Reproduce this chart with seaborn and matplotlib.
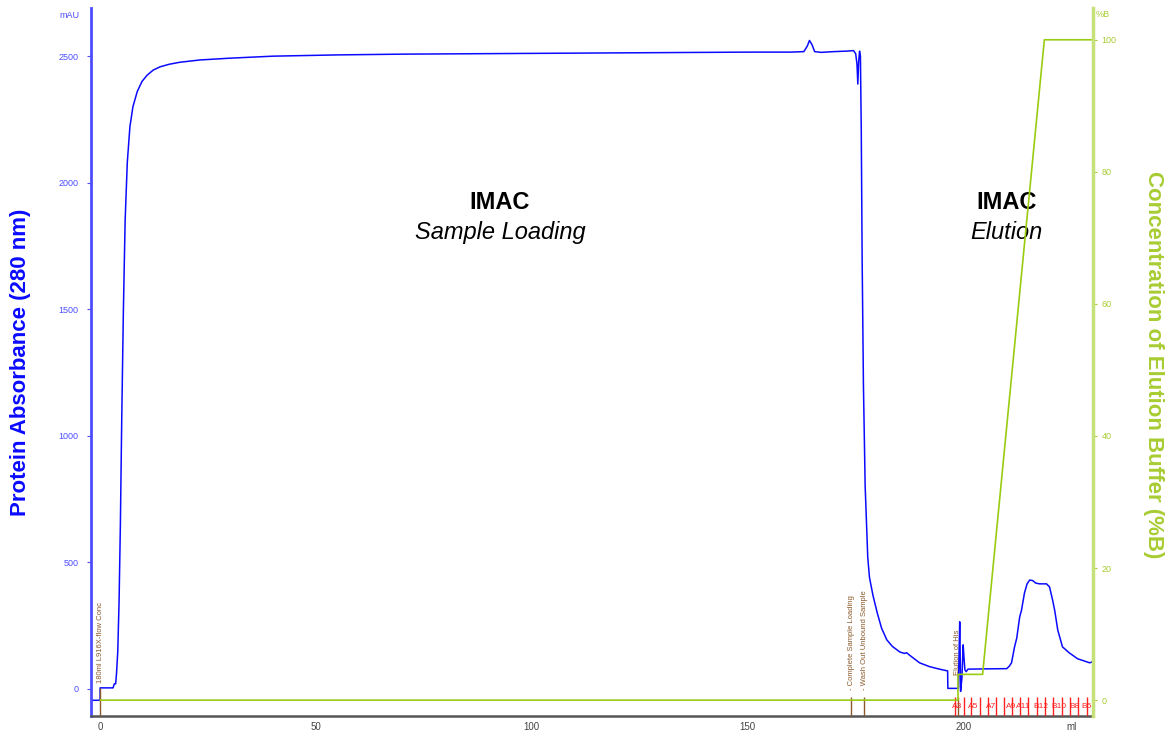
import seaborn as sns
import matplotlib.pyplot as plt
import matplotlib.transforms as mtransforms
import pandas as pd

# UV 280 nm trace (ml, mAU)
uv_ml = [-2.0, 0.0, 0.0, 3.0, 3.3, 3.6, 3.8, 4.1, 4.4, 4.7, 5.0, 5.4, 5.8, 6.3, 6.9,
         7.6, 8.6, 9.7, 10.9, 12.3, 13.9, 16.0, 18.5, 23.1, 30, 40, 55, 70, 90, 110,
         130, 150, 160, 163.0, 163.8, 164.3, 164.9, 165.5, 167, 170, 173, 174.5, 175.0,
         175.3, 175.5, 175.7, 175.9, 176.1, 176.3, 176.5, 176.8, 177.2, 177.8, 178.2,
         179.0, 180.0, 181.0, 182.2, 183.5, 185.2, 186.3, 186.8, 187.5, 189.8, 192.1,
         194.4, 196.3, 196.35, 198.8, 198.85, 199.1, 199.2, 199.3, 199.6, 199.9, 200.1,
         200.3, 200.6, 201.0, 205.0, 210.0, 210.6, 211.1, 211.8, 212.3, 213.0, 213.4,
         214.1, 214.7, 215.3, 216.0, 216.7, 217.6, 219.2, 219.9, 220.6, 221.1, 221.8,
         222.9, 224.5, 226.4, 228.0, 229.2, 230.0]
uv_mau = [-45, -45, 4, 4, 20, 20, 60, 150, 350, 650, 1050, 1500, 1850, 2080, 2220,
          2300, 2360, 2400, 2425, 2445, 2458, 2468, 2476, 2485, 2492, 2500, 2505, 2508,
          2510, 2512, 2514, 2516, 2516, 2518, 2540, 2562, 2545, 2518, 2515, 2518, 2520,
          2522, 2510, 2470, 2390, 2480, 2520, 2500, 2200, 1700, 1200, 800, 520, 440,
          370, 300, 240, 194, 168, 146, 140, 143, 133, 103, 88, 78, 71, 2, 2, 60,
          265, 150, -10, 40, 174, 120, 75, 68, 78, 79, 80, 90, 103, 166, 200, 285, 310,
          379, 415, 430, 428, 418, 415, 415, 403, 352, 310, 233, 166, 142, 119, 110,
          103, 108]

# Elution buffer concentration (ml, %B)
conc_ml = [0, 198.7, 198.7, 204.4, 218.7, 230.0]
conc_b = [0, 0, 3.9, 3.9, 100, 100]

# run log events
event_ml = [0.0, 174.0, 177.0, 198.6]
event_text = ["180ml L916X-flow Conc", "- Complete Sample Loading",
              "- Wash Out Unbound Sample", "Elution of His"]

# fractions
frac_ml = [198.1, 200.0, 201.8, 203.7, 205.6, 207.4, 209.3, 211.2, 213.1, 215.0,
           216.9, 218.9, 220.8, 222.8, 224.7, 226.6, 228.5]
frac_lab_ml = [198.6, 202.2, 206.4, 210.9, 213.9, 217.8, 222.0, 225.6, 228.4]
frac_lab = ["A3", "A5", "A7", "A9", "A11", "B12", "B10", "B8", "B6"]

x_ticks = [0, 50, 100, 150, 200, 225]
x_ticklabels = ["0", "50", "100", "150", "200", "ml"]

BLUE = "#0a0aff"
GREEN = "#99cc11"
GREEN_TXT = "#a8cc33"
BROWN = "#8b5a2b"

sns.set_style("white")
plt.rcParams['font.family'] = ['Liberation Sans', 'DejaVu Sans']

uv = pd.DataFrame({"ml": uv_ml, "mAU": uv_mau})
conc = pd.DataFrame({"ml": conc_ml, "B": conc_b})

fig = plt.figure(figsize=(11.7, 7.35), dpi=100)
ax = fig.add_axes([0.0778, 0.0259, 0.8565, 0.9631])
ax2 = ax.twinx()

sns.lineplot(data=uv, x="ml", y="mAU", ax=ax, color=BLUE, lw=1.1,
             sort=False, estimator=None)
sns.lineplot(data=conc, x="ml", y="B", ax=ax2, color=GREEN, lw=1.2,
             sort=False, estimator=None)

ax.set_xlim(-2.1, 230)
ax.set_ylim(-107, 2690)
ax2.set_ylim(-2.4, 104.8)

ax.set_yticks([0, 500, 1000, 1500, 2000, 2500])
ax.set_yticklabels(["0", "500", "1000", "1500", "2000", "2500"])
ax2.set_yticks([0, 20, 40, 60, 80, 100])
ax.set_xticks(x_ticks)
ax.set_xticklabels(x_ticklabels)

ax.tick_params(axis="y", colors="#4d4dff", labelsize=6.5, length=3, width=0.8, pad=6)
ax.tick_params(axis="x", colors="#444444", labelsize=7, length=2, width=0.8, pad=2)
ax2.tick_params(axis="y", colors=GREEN_TXT, labelsize=6.5, length=3, width=0.8, pad=3)

for a in (ax, ax2):
    a.spines["top"].set_visible(False)
    a.set_facecolor("none")
ax2.spines["left"].set_visible(False)
ax2.spines["bottom"].set_visible(False)
ax.spines["right"].set_visible(False)
ax.spines["left"].set_color("#4d4dff")
ax.spines["left"].set_linewidth(2)
ax.spines["bottom"].set_color("#555555")
ax.spines["bottom"].set_linewidth(1.8)
ax2.spines["right"].set_color("#c6e07a")
ax2.spines["right"].set_linewidth(2.5)

ax.set_xlabel("")
ax.set_ylabel("Protein Absorbance (280 nm)", color=BLUE, fontsize=16,
              fontweight="bold")
ax.yaxis.set_label_coords(-0.06, 0.5)
ax2.set_ylabel("Concentration of Elution Buffer (%B)", color=GREEN_TXT,
               fontsize=16, fontweight="bold", rotation=-90, va="center")
ax2.yaxis.set_label_coords(1.06, 0.496)

ax.text(-0.022, 0.99, "mAU", transform=ax.transAxes, color="#4d4dff",
        fontsize=6.5, ha="center", va="center")
ax2.text(1.01, 0.991, "%B", transform=ax2.transAxes, color=GREEN_TXT,
         fontsize=6.5, ha="center", va="center")

# region annotations
ax.text(92.6, 1920, "IMAC", fontsize=17, fontweight="bold", ha="center",
        va="center", color="black")
ax.text(92.6, 1805, "Sample Loading", fontsize=17, style="italic", ha="center",
        va="center", color="black")
ax.text(210.0, 1920, "IMAC", fontsize=17, fontweight="bold", ha="center",
        va="center", color="black")
ax.text(210.0, 1805, "Elution", fontsize=17, style="italic", ha="center",
        va="center", color="black")

# event markers
trans = mtransforms.blended_transform_factory(ax.transData, ax.transAxes)
line_top = [0.04, 0.027, 0.027, 0.027]
text_bottom = [0.047, 0.037, 0.037, 0.058]
for x, t, lt, tb in zip(event_ml, event_text, line_top, text_bottom):
    ax.vlines(x, 0, lt, transform=trans, color=BROWN, lw=1.0, zorder=5)
    ax.text(x, tb, t, transform=trans, rotation=90, color=BROWN,
            fontsize=5.5, ha="center", va="bottom", zorder=5)

# fraction marks
ax.vlines(frac_ml, 0, 0.027, transform=trans, color="#ff2020", lw=1.0, zorder=6)
for x, t in zip(frac_lab_ml, frac_lab):
    ax.text(x, 0.008, t, transform=trans, color="#ff2020", fontsize=6,
            ha="center", va="bottom", zorder=7, clip_on=True)

fig.savefig("out.png", dpi=100)
